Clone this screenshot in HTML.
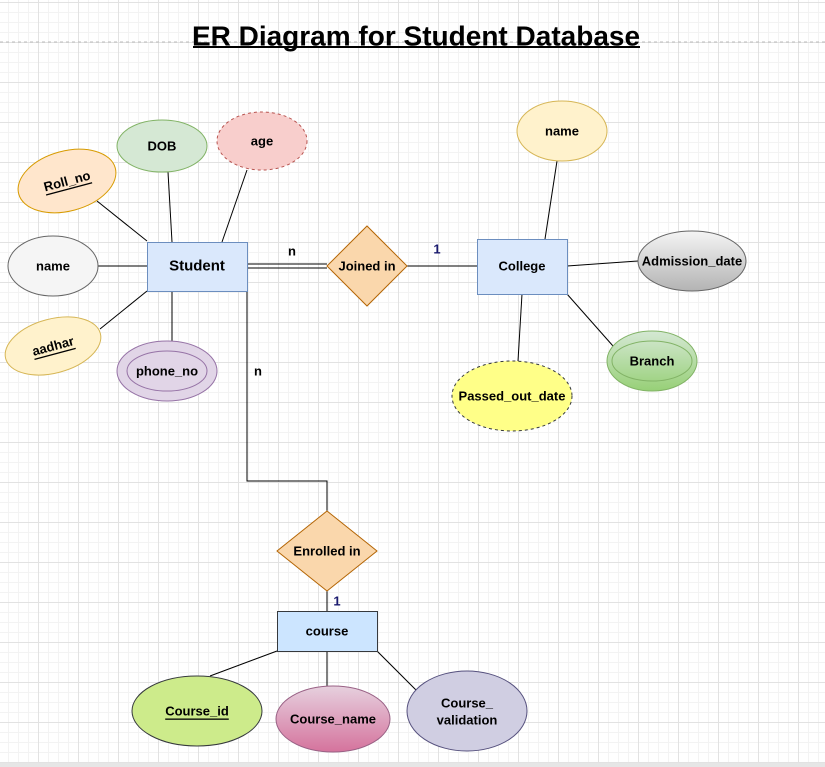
<!DOCTYPE html>
<html><head><meta charset="utf-8"><style>
html,body{margin:0;padding:0}
body{width:825px;height:767px;overflow:hidden;background:#fff;
background-image:linear-gradient(#e2e2e2 1px,transparent 1px),linear-gradient(90deg,#e2e2e2 1px,transparent 1px),linear-gradient(#f3f3f3 1px,transparent 1px),linear-gradient(90deg,#f3f3f3 1px,transparent 1px);
background-size:40px 40px,40px 40px,10px 10px,10px 10px;
background-position:0 2px,-2px 0,0 2px,-2px 0;font-family:"Liberation Sans",Arial,sans-serif}
svg{position:absolute;left:0;top:0}
text{font-family:"Liberation Sans",Arial,sans-serif;font-weight:bold;font-size:13px;text-anchor:middle;dominant-baseline:central}
</style></head><body>
<svg width="825" height="767" viewBox="0 0 825 767">
<defs>
<linearGradient id="gg" x1="0" y1="0" x2="0" y2="1"><stop offset="0" stop-color="#f5f5f5"/><stop offset="1" stop-color="#b3b3b3"/></linearGradient>
<linearGradient id="gr" x1="0" y1="0" x2="0" y2="1"><stop offset="0" stop-color="#d5e8d4"/><stop offset="1" stop-color="#97d077"/></linearGradient>
<linearGradient id="pk" x1="0" y1="0" x2="0" y2="1"><stop offset="0" stop-color="#e6d0de"/><stop offset="1" stop-color="#d5739d"/></linearGradient>
</defs>
<line x1="0" y1="42" x2="825" y2="42" stroke="#bbb" stroke-dasharray="3,3"/>
<text x="416" y="36" style="font-size:28px">ER Diagram for Student Database</text>
<line x1="193" y1="47" x2="640" y2="47" stroke="#000" stroke-width="2"/>
<g stroke="#000" stroke-width="1" fill="none">
<line x1="97" y1="201" x2="147" y2="241"/>
<line x1="168" y1="172" x2="172" y2="242"/>
<line x1="247" y1="170" x2="222" y2="242"/>
<line x1="98" y1="266" x2="147" y2="266"/>
<line x1="100" y1="329" x2="147" y2="291"/>
<line x1="172" y1="291" x2="172" y2="341"/>
<line x1="247" y1="264" x2="327" y2="264"/>
<line x1="247" y1="268" x2="327" y2="268"/>
<line x1="407" y1="266" x2="477" y2="266"/>
<polyline points="247,291 247,481 327,481 327,511"/>
<line x1="327" y1="591" x2="327" y2="611"/>
<line x1="557" y1="161" x2="545" y2="239"/>
<line x1="567" y1="266" x2="638" y2="261"/>
<line x1="567" y1="294" x2="613" y2="346"/>
<line x1="522" y1="294" x2="518" y2="361"/>
<line x1="277" y1="651" x2="210" y2="676"/>
<line x1="327" y1="651" x2="327" y2="686"/>
<line x1="377" y1="651" x2="416" y2="690"/>
</g>
<ellipse cx="67" cy="181" rx="50" ry="30" transform="rotate(-15 67 181)" fill="#ffe6cc" stroke="#d79b00"/>
<text x="67" y="181" transform="rotate(-15 67 181)" text-decoration="underline">Roll_no</text>
<ellipse cx="162" cy="146" rx="45" ry="26" fill="#d5e8d4" stroke="#82b366"/><text x="162" y="146">DOB</text>
<ellipse cx="262" cy="141" rx="45" ry="29" fill="#f8cecc" stroke="#b85450" stroke-dasharray="3,3"/><text x="262" y="141">age</text>
<ellipse cx="53" cy="266" rx="45" ry="30" fill="#f5f5f5" stroke="#666"/><text x="53" y="266">name</text>
<ellipse cx="53" cy="346" rx="49" ry="27" transform="rotate(-15 53 346)" fill="#fff2cc" stroke="#d6b656"/>
<text x="53" y="346" transform="rotate(-15 53 346)" text-decoration="underline">aadhar</text>
<ellipse cx="167" cy="371" rx="50" ry="30" fill="#e1d5e7" stroke="#9673a6"/>
<ellipse cx="167" cy="371" rx="40" ry="20" fill="none" stroke="#9673a6"/><text x="167" y="371">phone_no</text>
<rect x="147.5" y="242.5" width="100" height="49" fill="#dae8fc" stroke="#6c8ebf"/><text x="197" y="266" style="font-size:15px">Student</text>
<polygon points="367,226 407,266 367,306 327,266" fill="#fad7ac" stroke="#b46504"/><text x="367" y="266">Joined in</text>
<text x="292" y="251">n</text><text x="437" y="249" fill="#1a1a6e">1</text><text x="258" y="371">n</text>
<rect x="477.5" y="239.5" width="90" height="55" fill="#dae8fc" stroke="#6c8ebf"/><text x="522" y="266">College</text>
<ellipse cx="562" cy="131" rx="45" ry="30" fill="#fff2cc" stroke="#d6b656"/><text x="562" y="131">name</text>
<ellipse cx="692" cy="261" rx="54" ry="30" fill="url(#gg)" stroke="#666"/><text x="692" y="261">Admission_date</text>
<ellipse cx="652" cy="361" rx="45" ry="30" fill="url(#gr)" stroke="#82b366"/>
<ellipse cx="652" cy="361" rx="40" ry="20" fill="none" stroke="#82b366"/><text x="652" y="361">Branch</text>
<ellipse cx="512" cy="396" rx="60" ry="35" fill="#ffff88" stroke="#36393d" stroke-dasharray="3,3"/><text x="512" y="396">Passed_out_date</text>
<polygon points="327,511 377,551 327,591 277,551" fill="#fad7ac" stroke="#b46504"/><text x="327" y="551">Enrolled in</text>
<text x="337" y="601" fill="#1a1a6e">1</text>
<rect x="277.5" y="611.5" width="100" height="40" fill="#cce5ff" stroke="#36393d"/><text x="327" y="631">course</text>
<ellipse cx="197" cy="711" rx="65" ry="35" fill="#cdeb8b" stroke="#36393d"/><text x="197" y="711" text-decoration="underline">Course_id</text>
<ellipse cx="333" cy="719" rx="57" ry="33" fill="url(#pk)" stroke="#996185"/><text x="333" y="719">Course_name</text>
<ellipse cx="467" cy="711" rx="60" ry="40" fill="#d0cee2" stroke="#56517e"/>
<text x="467" y="703">Course_</text><text x="467" y="720">validation</text>
<rect x="0" y="763" width="825" height="4" fill="#e6e6e6"/>
</svg>
</body></html>
